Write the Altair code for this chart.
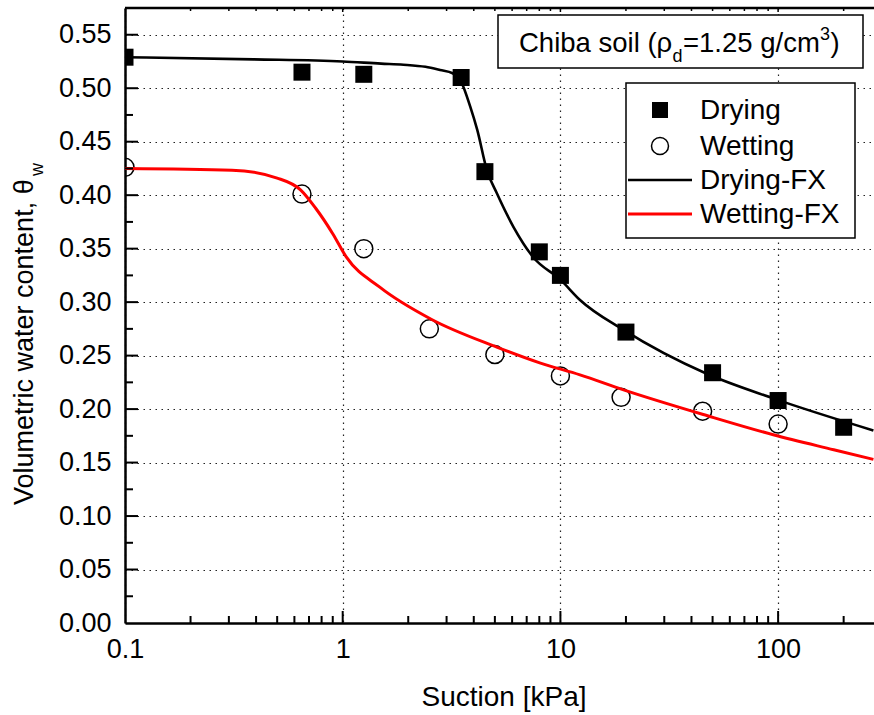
import altair as alt
import pandas as pd

# ---------------- data ----------------
DRY_X = [0.1, 0.65, 1.25, 3.5, 4.5, 8, 10, 20, 50, 100, 200]
DRY_Y = [0.529, 0.515, 0.513, 0.510, 0.422, 0.347, 0.325, 0.272, 0.234, 0.208, 0.183]

WET_X = [0.1, 0.65, 1.25, 2.5, 5, 10, 19, 45, 100]
WET_Y = [0.426, 0.401, 0.350, 0.275, 0.251, 0.231, 0.211, 0.198, 0.186]

DRY_FIT_X = [0.1, 0.39, 1.0, 1.5, 1.9, 2.4, 2.8, 3.2, 3.5, 3.85, 4.15, 4.6, 5.1,
             6.1, 7.5, 10, 12.3, 19.5, 47, 95, 274]
DRY_FIT_Y = [0.529, 0.527, 0.525, 0.523, 0.522, 0.520, 0.517, 0.514, 0.506, 0.483,
             0.461, 0.423, 0.402, 0.370, 0.342, 0.321, 0.302, 0.274, 0.233, 0.210, 0.180]

WET_FIT_X = [0.1, 0.31, 0.5, 0.64, 0.75, 0.9, 1.04, 1.48, 2.55, 5.1, 8.1, 12.3,
             19.5, 47, 95, 180, 274]
WET_FIT_Y = [0.425, 0.4234, 0.416, 0.405, 0.388, 0.364, 0.342, 0.314, 0.284, 0.258,
             0.243, 0.232, 0.218, 0.194, 0.176, 0.162, 0.153]

X_MAJOR = [0.1, 1, 10, 100]
X_MINOR = [0.2, 0.3, 0.4, 0.5, 0.6, 0.7, 0.8, 0.9,
           2, 3, 4, 5, 6, 7, 8, 9,
           20, 30, 40, 50, 60, 70, 80, 90, 200]
Y_MAJOR = [0.00, 0.05, 0.10, 0.15, 0.20, 0.25, 0.30, 0.35, 0.40, 0.45, 0.50, 0.55]
Y_MINOR = [0.025, 0.075, 0.125, 0.175, 0.225, 0.275, 0.325, 0.375, 0.425, 0.475, 0.525]

LEGEND_LABELS = ["Drying", "Wetting", "Drying-FX", "Wetting-FX"]
X_TITLE = "Suction [kPa]"
Y_TITLE = "Volumetric water content, \u03b8"
Y_TITLE_SUB = "w"

# ---------------- layout ----------------
W, H = 749, 615
X_DOMAIN = [0.1, 275.7]
Y_DOMAIN = [0.0, 0.575]
FONT = "Liberation Sans"

xscale = alt.Scale(type="log", domain=X_DOMAIN, nice=False)
yscale = alt.Scale(domain=Y_DOMAIN, nice=False, zero=False)

x_axis = alt.Axis(values=X_MAJOR, format="~g", labelFont=FONT, labelFontSize=27,
                  labelColor="black", labelPadding=13, ticks=False, tickSize=0,
                  domainColor="black", domainWidth=2.5, grid=True, gridColor="#222",
                  gridDash=[1.5, 4.5], gridWidth=1.2, title="", labelFlush=False,
                  labelOverlap=False)
y_axis = alt.Axis(values=Y_MAJOR, format=".2f", labelFont=FONT, labelFontSize=27,
                  labelColor="black", labelPadding=14, ticks=False, tickSize=0,
                  domainColor="black", domainWidth=2.5, grid=True, gridColor="#222",
                  gridDash=[1.5, 4.5], gridWidth=1.2, title="", labelFlush=False,
                  labelOverlap=False)


def X(f):
    return alt.X(f, type="quantitative", scale=xscale, axis=x_axis)


def Y(f):
    return alt.Y(f, type="quantitative", scale=yscale, axis=y_axis)


dry = pd.DataFrame({"x": DRY_X, "y": DRY_Y})
wet = pd.DataFrame({"x": WET_X, "y": WET_Y})
dry_fit = pd.DataFrame({"x": DRY_FIT_X, "y": DRY_FIT_Y})
wet_fit = pd.DataFrame({"x": WET_FIT_X, "y": WET_FIT_Y})

pts_dry = alt.Chart(dry).mark_point(shape="square", filled=True, color="black",
                                    size=289, opacity=1, clip=True).encode(x=X("x"), y=Y("y"))
pts_wet = alt.Chart(wet).mark_point(shape="circle", filled=False, color="black",
                                    strokeWidth=1.5, size=324, opacity=1, clip=True).encode(x=X("x"), y=Y("y"))
line_dry = alt.Chart(dry_fit).mark_line(color="black", strokeWidth=2.6, interpolate="monotone",
                                        clip=True).encode(x=X("x"), y=Y("y"))
line_wet = alt.Chart(wet_fit).mark_line(color="#ff0000", strokeWidth=3, interpolate="monotone",
                                        clip=True).encode(x=X("x"), y=Y("y"))

# inward ticks
xmaj = pd.DataFrame({"v": X_MAJOR[1:]})
xmin = pd.DataFrame({"v": X_MINOR})
ymaj = pd.DataFrame({"v": Y_MAJOR[1:]})
ymin = pd.DataFrame({"v": Y_MINOR})
tick_style = dict(color="black", strokeWidth=2)
ticks = [
    alt.Chart(xmaj).mark_rule(**tick_style).encode(x=X("v"), y=alt.value(H - 12), y2=alt.value(H)),
    alt.Chart(xmin).mark_rule(**tick_style).encode(x=X("v"), y=alt.value(H - 7), y2=alt.value(H)),
    alt.Chart(xmaj).mark_rule(color="black", strokeWidth=1.5).encode(x=X("v"), y=alt.value(0), y2=alt.value(4)),
    alt.Chart(xmin).mark_rule(color="black", strokeWidth=1.5).encode(x=X("v"), y=alt.value(0), y2=alt.value(3)),
    alt.Chart(ymaj).mark_rule(**tick_style).encode(y=Y("v"), x=alt.value(0), x2=alt.value(13)),
    alt.Chart(ymin).mark_rule(**tick_style).encode(y=Y("v"), x=alt.value(0), x2=alt.value(8)),
]

ONE = alt.Data(values=[{"k": 0}])

top_border = alt.Chart(ONE).mark_rule(color="black", strokeWidth=2.5).encode(
    x=alt.value(0), x2=alt.value(W), y=alt.value(0))


def txt(s, x, y, size=27, angle=0, align="left", baseline="alphabetic"):
    kw = dict(text=s, font=FONT, fontSize=size, color="black", align=align, baseline=baseline)
    if angle:
        kw["angle"] = angle
    return alt.Chart(ONE).mark_text(**kw).encode(x=alt.value(x), y=alt.value(y))


def box(x1, x2, y1, y2):
    return alt.Chart(ONE).mark_rect(fill="white", stroke="black", strokeWidth=1.5).encode(
        x=alt.value(x1), x2=alt.value(x2), y=alt.value(y1), y2=alt.value(y2))


# title box "Chiba soil (rho_d=1.25 g/cm^3)"
OX, OY = 125, 8  # plot origin in page pixels (used only for converting measured positions)
title_box = [
    box(498 - OX, 863 - OX, 15 - OY, 68 - OY),
    txt("Chiba soil (\u03c1", 519 - OX, 52 - OY, size=27.5),
    txt("d", 672.5 - OX, 62 - OY, size=18),
    txt("=1.25 g/cm", 683 - OX, 52 - OY, size=27.5),
    txt("3", 820 - OX, 40 - OY, size=18),
    txt(")", 830.5 - OX, 52 - OY, size=27.5),
]

# legend
lx_sym = 660 - OX
lx_txt = 700 - OX
legend = [
    box(626 - OX, 855 - OX, 83 - OY, 238 - OY),
    alt.Chart(ONE).mark_point(shape="square", filled=True, color="black", size=256, opacity=1).encode(
        x=alt.value(lx_sym), y=alt.value(110 - OY)),
    alt.Chart(ONE).mark_point(shape="circle", filled=False, color="black", strokeWidth=1.5, size=289,
                              opacity=1).encode(x=alt.value(lx_sym), y=alt.value(146 - OY)),
    alt.Chart(ONE).mark_rule(color="black", strokeWidth=2.5).encode(
        x=alt.value(628 - OX), x2=alt.value(692 - OX), y=alt.value(180 - OY)),
    alt.Chart(ONE).mark_rule(color="#ff0000", strokeWidth=3).encode(
        x=alt.value(628 - OX), x2=alt.value(692 - OX), y=alt.value(214 - OY)),
]
for lab, by in zip(LEGEND_LABELS, [119, 155, 188.5, 223]):
    legend.append(txt(lab, lx_txt, by - OY, size=28))

# axis titles
titles = [
    txt(X_TITLE, 504 - OX, 706 - OY, size=28, align="center"),
    txt(Y_TITLE, 33 - OX, 505 - OY, size=27, angle=270),
    txt(Y_TITLE_SUB, 43 - OX, 176 - OY, size=18, angle=270),
]

chart = alt.layer(
    pts_dry, pts_wet, line_dry, line_wet, *ticks, top_border,
    *title_box, *legend, *titles
).properties(
    width=W, height=H,
    autosize=alt.AutoSizeParams(type="none"),
    padding={"left": 125, "top": 8, "right": 0, "bottom": 92},
    background="white",
).configure_view(stroke="transparent")

chart.save("out.html", embed_options={"renderer": "svg", "actions": False})
